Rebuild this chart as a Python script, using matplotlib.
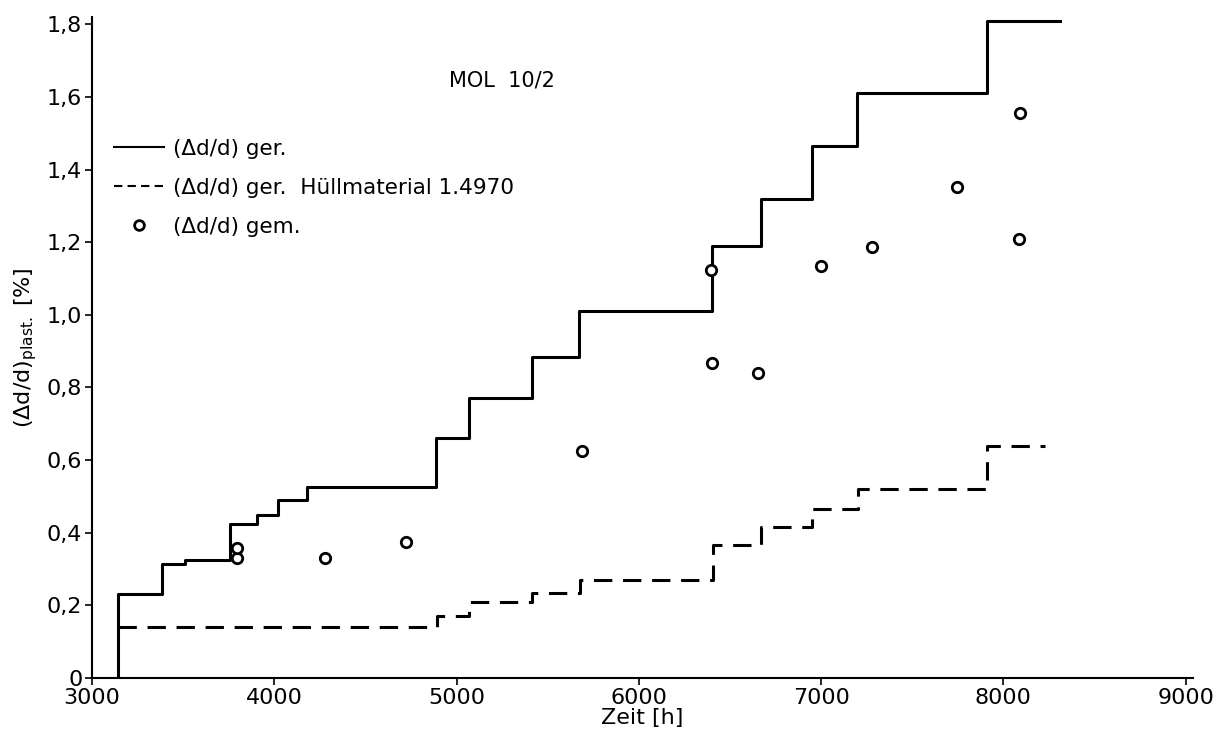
import matplotlib
matplotlib.use("Agg")
import matplotlib.pyplot as plt
from matplotlib.lines import Line2D

# (Δd/d) ger. - solid step curve
ger_t = [3140, 3140, 3385, 3510, 3757, 3905, 4020, 4180, 4887, 5068, 5414,
         5671, 6401, 6670, 6950, 7196, 7910, 8310]
ger_v = [0.0, 0.23, 0.315, 0.325, 0.425, 0.45, 0.49, 0.525, 0.66, 0.77, 0.885,
         1.01, 1.19, 1.32, 1.465, 1.61, 1.81, 1.81]

# (Δd/d) ger. Hüllmaterial 1.4970 - dashed step curve
huell_t = [3140, 4890, 5070, 5415, 5675, 6405, 6672, 6952, 7200, 7912, 8230]
huell_v = [0.14, 0.17, 0.21, 0.235, 0.27, 0.365, 0.415, 0.465, 0.52, 0.64, 0.64]

# (Δd/d) gem. - measured points
gem_t = [3795, 3795, 4278, 4722, 5688, 6401, 6653, 6396, 6999, 7279, 7745, 8091, 8085]
gem_v = [0.33, 0.358, 0.33, 0.374, 0.625, 0.867, 0.839, 1.123, 1.135, 1.187,
         1.353, 1.556, 1.208]

x_ticks = [3000, 4000, 5000, 6000, 7000, 8000, 9000]
y_ticks = [0, 0.2, 0.4, 0.6, 0.8, 1.0, 1.2, 1.4, 1.6, 1.8]
y_ticklabels = ["0", "0,2", "0,4", "0,6", "0,8", "1,0", "1,2", "1,4", "1,6", "1,8"]

plt.rcParams['font.family'] = ['DejaVu Sans']

fig = plt.figure(figsize=(12.19, 7.31), dpi=100)
ax = fig.add_axes([92 / 1219, 53 / 731, (1193 - 92) / 1219, (678 - 17) / 731])

ax.step(ger_t, ger_v, where='post', color='black', lw=2.2)
ax.step(huell_t, huell_v, where='post', color='black', lw=2.2,
        linestyle=(0, (6, 3.5)))
ax.plot(gem_t, gem_v, linestyle='none', marker='o', ms=7.5, mfc='white',
        mec='black', mew=2.0)

ax.set_xlim(3000, 9040)
ax.set_ylim(0, 1.82)
ax.set_xticks(x_ticks)
ax.set_yticks(y_ticks)
ax.set_yticklabels(y_ticklabels)
ax.tick_params(direction='out', length=5, width=1.2, labelsize=16, pad=2)

for side in ['top', 'right']:
    ax.spines[side].set_visible(False)
for side in ['left', 'bottom']:
    ax.spines[side].set_linewidth(1.5)

ax.set_xlabel("Zeit [h]", fontsize=16, labelpad=0)
ax.set_ylabel("(Δd/d)$_{\\mathregular{plast.}}$ [%]", fontsize=16, labelpad=6)

ax.text(449 / 1219, 1 - 80 / 731, "MOL  10/2", transform=fig.transFigure,
        fontsize=15, va='center', ha='left')

handles = [
    Line2D([], [], color='black', lw=1.5),
    Line2D([], [], color='black', lw=1.5, linestyle=(0, (4, 2.5))),
    Line2D([], [], linestyle='none', marker='o', ms=7, mfc='white',
           mec='black', mew=2.0),
]
labels = ["(Δd/d) ger.", "(Δd/d) ger.  Hüllmaterial 1.4970", "(Δd/d) gem."]
ax.legend(handles, labels, loc='upper left', frameon=False, fontsize=15.5,
          bbox_to_anchor=(114 / 1219, 1 - 139 / 731),
          bbox_transform=fig.transFigure, borderpad=0, borderaxespad=0,
          handlelength=2.3, handletextpad=0.45, labelspacing=0.88)

fig.savefig("out.png", dpi=100)
